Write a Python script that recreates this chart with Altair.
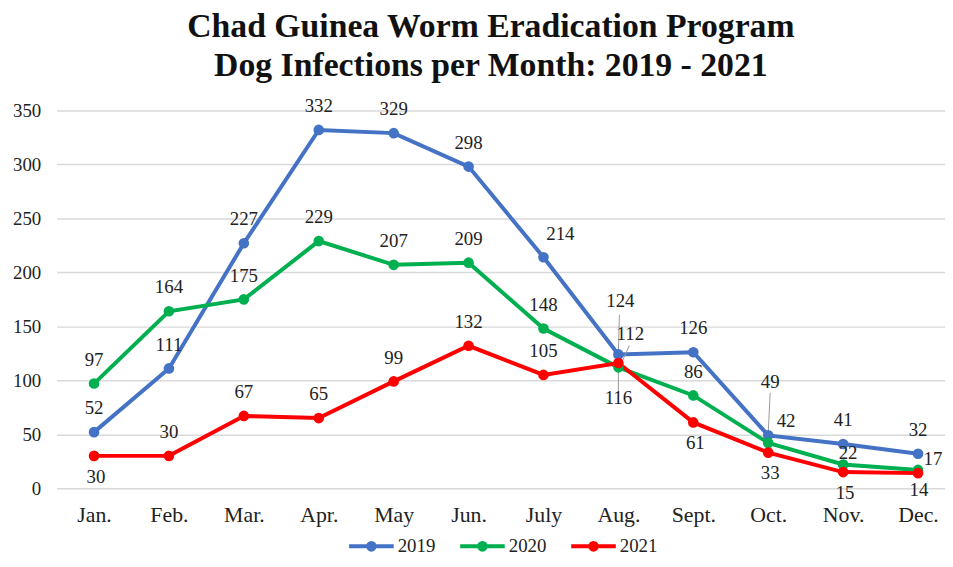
import altair as alt
import pandas as pd

# ---------------- data ----------------
MONTHS = ["Jan.", "Feb.", "Mar.", "Apr.", "May", "Jun.", "July", "Aug.",
          "Sept.", "Oct.", "Nov.", "Dec."]
SERIES = ["2019", "2020", "2021"]
V2019 = [52, 111, 227, 332, 329, 298, 214, 124, 126, 49, 41, 32]
V2020 = [97, 164, 175, 229, 207, 209, 148, 112, 86, 42, 22, 17]
V2021 = [30, 30, 67, 65, 99, 132, 105, 116, 61, 33, 15, 14]
Y_TICKS = [0, 50, 100, 150, 200, 250, 300, 350]
TITLE = ["Chad Guinea Worm Eradication Program",
         "Dog Infections per Month: 2019 - 2021"]

# ---------------- styles ----------------
COLORS = ["#4472C4", "#00B050", "#FF0000"]
FONT = "Liberation Serif"

# label placement (style): default above, exceptions listed
PLACE = {
    ("2019", "July"): "ur", ("2019", "Aug."): "high", ("2019", "Oct."): "high",
    ("2020", "Aug."): "aug112", ("2020", "Oct."): "oct42",
    ("2020", "Nov."): "nov22", ("2020", "Dec."): "right",
    ("2021", "Jan."): "below", ("2021", "Aug."): "low",
    ("2021", "Sept."): "below", ("2021", "Oct."): "below",
    ("2021", "Nov."): "below", ("2021", "Dec."): "below2",
}
OFFSETS = {
    "above": (0, -24), "below": (2, 21), "below2": (1, 17), "ur": (17, -23),
    "high": (2, -54), "aug112": (12, -34), "oct42": (18, -22),
    "nov22": (5, -12), "right": (15, -11), "low": (0, 35),
}
# leader lines: (x offset top, y offset top, x offset bottom, y offset bottom)
LEADERS = {
    ("2019", "Aug."): (1, -40, 0, -2),
    ("2020", "Aug."): (11, -22, 2, -2),
    ("2021", "Aug."): (0, 6, 0, 30),
    ("2019", "Oct."): (2, -43, 0, -3),
}

rows = []
for s, vals in zip(SERIES, [V2019, V2020, V2021]):
    for i, (m, v) in enumerate(zip(MONTHS, vals)):
        rows.append({"idx": i, "month": m, "series": s, "value": v,
                     "place": PLACE.get((s, m), "above")})
df = pd.DataFrame(rows)

month_expr = "[" + ",".join("'%s'" % m for m in MONTHS) + "][datum.value]"

x_enc = alt.X("idx:Q", title=None,
              scale=alt.Scale(domain=[-0.5, 11.36], nice=False, zero=False),
              axis=alt.Axis(values=list(range(len(MONTHS))),
                            labelExpr=month_expr,
                            labelFont=FONT, labelFontSize=22, labelColor="#222",
                            labelPadding=17, domain=False, ticks=False,
                            grid=False, labelAngle=0, labelFlush=False,
                            labelOverlap=False))
y_enc = alt.Y("value:Q", title=None,
              scale=alt.Scale(domain=[0, 350], nice=False),
              axis=alt.Axis(values=Y_TICKS, labelFont=FONT, labelFontSize=19,
                            labelColor="#222", labelPadding=16, domain=False,
                            ticks=False, grid=True, gridColor="#D9D9D9",
                            gridWidth=1.5))
cscale = alt.Scale(domain=SERIES, range=COLORS)
legend = alt.Legend(title=None, orient="none", direction="horizontal",
                    legendX=293, legendY=415)

base = alt.Chart(df)

lines = base.mark_line(strokeWidth=4).encode(
    x=x_enc, y=y_enc,
    color=alt.Color("series:N", scale=cscale, legend=legend),
)

leader_layers = []
for (s, m), (xt, yt, xb, yb) in LEADERS.items():
    leader_layers.append(
        base.transform_filter(
            (alt.datum.series == s) & (alt.datum.month == m)
        ).mark_rule(color="#999999", strokeWidth=1,
                    xOffset=xt, yOffset=yt, x2Offset=xb, y2Offset=yb).encode(
            x="idx:Q", x2="idx:Q", y="value:Q", y2="value:Q")
    )

points = base.mark_circle(size=115, opacity=1).encode(
    x=x_enc, y=y_enc,
    color=alt.Color("series:N", scale=cscale, legend=legend),
)

text_layers = []
for code, (dx, dy) in OFFSETS.items():
    text_layers.append(
        base.transform_filter(alt.datum.place == code).mark_text(
            font=FONT, fontSize=19, color="#222", dx=dx, dy=dy,
            baseline="middle", align="center").encode(
            x="idx:Q", y="value:Q", text="value:Q")
    )

chart = alt.layer(lines, *leader_layers, points, *text_layers).properties(
    width=896, height=381,
    autosize=alt.AutoSizeParams(type="none"),
    padding={"left": 49, "right": 0, "top": 101, "bottom": 69},
    title=alt.TitleParams(text=TITLE, font=FONT, fontSize=34,
                          fontWeight="bold", color="#111", lineHeight=40,
                          anchor="middle", dx=-10, offset=14),
).configure_view(stroke=None).configure_legend(
    labelFont=FONT, labelFontSize=19, labelColor="#222",
    symbolType="M-1,0H1M-0.15,0A0.15,0.15,0,1,1,0.15,0A0.15,0.15,0,1,1,-0.15,0Z",
    symbolSize=2025, symbolStrokeWidth=4, labelOffset=2, columnPadding=17,
    padding=0,
)

chart.save("out.html", embed_options={"renderer": "svg", "actions": False})
